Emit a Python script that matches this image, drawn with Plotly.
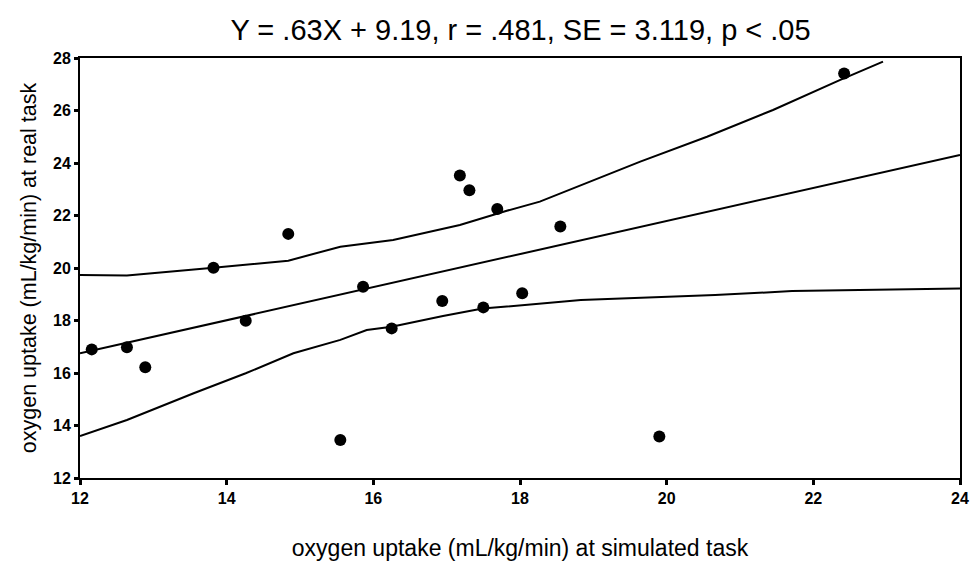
import plotly.graph_objects as go

# Data points
sim_task = [12.16, 12.64, 12.89, 13.82, 14.26, 14.84, 15.55, 15.86, 16.25, 16.94,
            17.18, 17.31, 17.50, 17.69, 18.03, 18.55, 19.90, 22.42]
real_task = [16.90, 16.98, 16.22, 20.01, 17.99, 21.30, 13.45, 19.29, 17.70, 18.74,
             23.52, 22.96, 18.50, 22.25, 19.04, 21.58, 13.58, 27.41]

# Regression line Y = .63X + 9.19
fit_x = [12, 24]
slope, intercept = 0.63, 9.19

# Upper band
upper_x = [12.0, 12.64, 13.82, 14.84, 15.55, 16.27, 17.18, 17.82, 18.27, 19.64, 20.55, 21.45, 22.36, 22.95]
upper_y = [19.73, 19.71, 20.01, 20.28, 20.81, 21.07, 21.64, 22.18, 22.53, 24.05, 25.00, 26.02, 27.16, 27.86]

# Lower band
lower_x = [12.0, 12.64, 13.55, 14.26, 14.91, 15.55, 15.91, 16.25, 16.95, 17.49, 17.82, 18.83, 20.66, 21.71, 24.0]
lower_y = [13.60, 14.21, 15.23, 15.99, 16.75, 17.26, 17.64, 17.76, 18.17, 18.46, 18.53, 18.78, 18.97, 19.12, 19.22]

x_ticks = [12, 14, 16, 18, 20, 22, 24]
y_ticks = [12, 14, 16, 18, 20, 22, 24, 26, 28]

fig = go.Figure()
line_style = dict(color="black", width=2)
fig.add_trace(go.Scatter(x=upper_x, y=upper_y, mode="lines", line=line_style, showlegend=False))
fig.add_trace(go.Scatter(x=lower_x, y=lower_y, mode="lines", line=line_style, showlegend=False))
fig.add_trace(go.Scatter(x=fit_x, y=[slope * v + intercept for v in fit_x], mode="lines",
                         line=line_style, showlegend=False))
fig.add_trace(go.Scatter(x=sim_task, y=real_task, mode="markers",
                         marker=dict(color="black", size=12), showlegend=False))

font_family = "Liberation Sans, Arial, sans-serif"
fig.update_layout(
    width=973, height=567,
    margin=dict(l=80, r=13, t=58, b=89, autoexpand=False),
    paper_bgcolor="white", plot_bgcolor="white",
    title=dict(text="Y = .63X + 9.19, r = .481, SE = 3.119, p < .05",
               x=0.535, xanchor="center", y=0.948, yanchor="middle",
               font=dict(family=font_family, size=29, color="black")),
    font=dict(family=font_family, color="black"),
)
fig.update_xaxes(
    range=[12, 24], tickvals=x_ticks, ticktext=[str(v) for v in x_ticks],
    showgrid=False, zeroline=False, showline=True, linecolor="black", linewidth=2,
    mirror=True, ticks="outside", ticklen=5, tickwidth=3, tickcolor="black",
    tickfont=dict(family=font_family, size=16, color="black", weight="bold"),
    title=dict(text="oxygen uptake (mL/kg/min) at simulated task",
               font=dict(family=font_family, size=23, color="black"), standoff=34),
)
fig.update_yaxes(
    range=[12, 28], tickvals=y_ticks, ticktext=[str(v) for v in y_ticks],
    showgrid=False, zeroline=False, showline=True, linecolor="black", linewidth=2,
    mirror=True, ticks="outside", ticklen=4, tickwidth=3, tickcolor="black",
    tickfont=dict(family=font_family, size=16, color="black", weight="bold"),
    title=dict(text="oxygen uptake (mL/kg/min) at real task",
               font=dict(family=font_family, size=21.5, color="black"), standoff=10),
)

fig.write_html("out.html")
